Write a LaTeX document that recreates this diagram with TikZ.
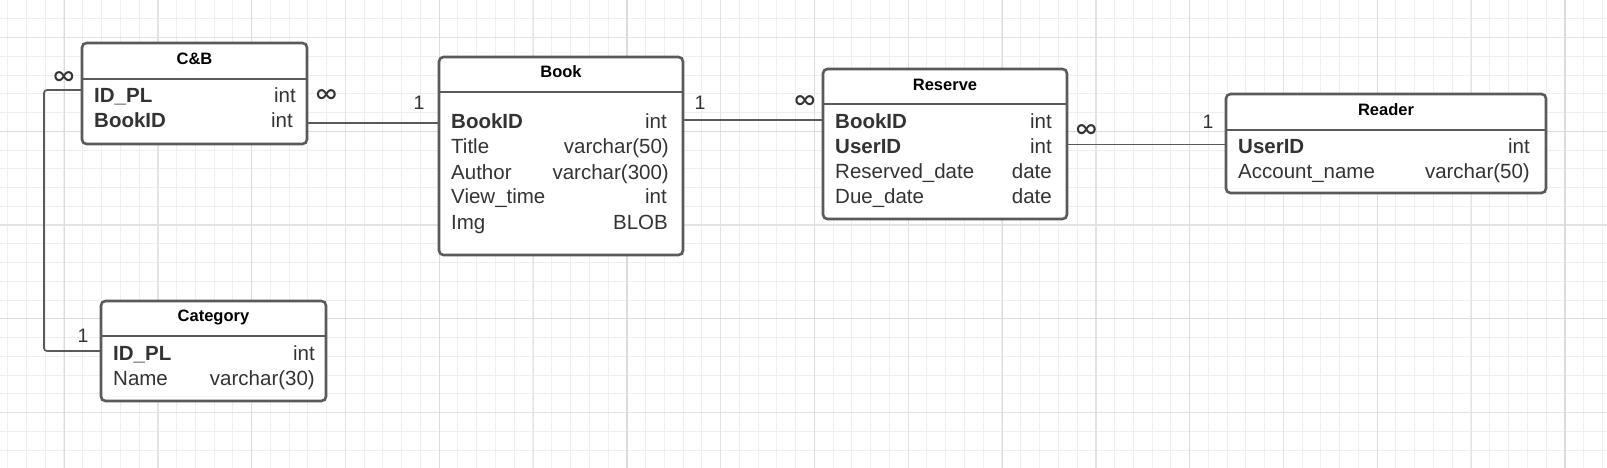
\documentclass[tikz,border=0pt]{standalone}
\usepackage{fontspec}
\setmainfont{Liberation Sans}
\newfontfamily\inffont{Lato}
\definecolor{gridminor}{HTML}{EFEFEF}
\definecolor{gridmajor}{HTML}{E3E3E3}
\definecolor{gridmajor2}{HTML}{DCDCDC}
\definecolor{boxline}{HTML}{5A5A5A}
\definecolor{txt}{HTML}{333333}
\tikzset{
  tbl/.style={draw=boxline, line width=2.6pt, rounded corners=4.5pt, fill=white, inner sep=0pt, outer sep=0pt},
  hdr/.style={draw=boxline, line width=2.6pt},
  ttl/.style={anchor=base, inner sep=0pt, font=\fontsize{16.5}{20}\selectfont\bfseries, text=black},
  fld/.style={anchor=base west, inner sep=0pt, font=\fontsize{20.5}{25}\selectfont, text=txt},
  key/.style={fld, font=\fontsize{20.5}{25}\selectfont\bfseries},
  typ/.style={anchor=base east, inner sep=0pt, font=\fontsize{20.5}{25}\selectfont, text=txt},
  conn/.style={draw=boxline, line width=1.7pt, rounded corners=3pt},
  lbl/.style={inner sep=0pt, font=\fontsize{19.5}{22}\selectfont, text=txt},
  inf/.style={inner sep=0pt, font=\inffont\fontsize{30}{34}\selectfont, text=txt},
  gminor/.style={draw=gridminor, line width=1pt},
  gmajor/.style={draw=gridmajor, line width=1.3pt},
  gmajortwo/.style={draw=gridmajor2, line width=1.3pt},
}
\begin{document}
\begin{tikzpicture}[x=1pt,y=-1pt]
\useasboundingbox (0,0) rectangle (1607,468);
\fill[white] (0,0) rectangle (1607,468);
% grid
\foreach \i in {0,...,85} \draw[gminor] ({7.7+18.76*\i},0) -- ({7.7+18.76*\i},468);
\foreach \i in {0,...,25} \draw[gminor] (0,{0.0+18.76*\i}) -- (1607,{0.0+18.76*\i});
\foreach \i in {0,...,16} \draw[gmajor] ({64.2+93.8*\i},0) -- ({64.2+93.8*\i},468);
\foreach \i in {0,...,4} \draw[gmajor] (0,{37.4+93.8*\i}) -- (1607,{37.4+93.8*\i});
\foreach \i in {0,...,8} \draw[gmajortwo] ({64.2+187.6*\i},0) -- ({64.2+187.6*\i},468);
\foreach \i in {0,1} \draw[gmajortwo] (0,{131.2+187.6*\i}) -- (1607,{131.2+187.6*\i});

% C&B
\node[tbl, minimum width=225pt, minimum height=101pt] (cb) at (194.5,93.5) {};
\draw[hdr] (cb.west |- 0,79) -- (cb.east |- 0,79);
\node[ttl] (cbt) at (194.5,65) {C\&B};
\node[key] (cb1) at (94,102.7) {ID\_PL};
\node[typ] (cb1t) at (296,102.7) {int};
\node[key] (cb2) at (94,127.7) {BookID};
\node[typ] (cb2t) at (293,127.7) {int};

% Book
\node[tbl, minimum width=244pt, minimum height=198pt] (book) at (561,156) {};
\draw[hdr] (book.west |- 0,92) -- (book.east |- 0,92);
\node[ttl] (bookt) at (561,77.7) {Book};
\node[key] (b1) at (451,129) {BookID};
\node[typ] (b1t) at (667,129) {int};
\node[fld] (b2) at (451,154) {Title};
\node[typ] (b2t) at (669,154) {varchar(50)};
\node[fld] (b3) at (451,179) {Author};
\node[typ] (b3t) at (669,179) {varchar(300)};
\node[fld] (b4) at (451,204) {View\_time};
\node[typ] (b4t) at (667,204) {int};
\node[fld] (b5) at (451,229) {Img};
\node[typ] (b5t) at (668,229) {BLOB};

% Reserve
\node[tbl, minimum width=244pt, minimum height=150pt] (res) at (945,144) {};
\draw[hdr] (res.west |- 0,104) -- (res.east |- 0,104);
\node[ttl] (rest) at (945,90.3) {Reserve};
\node[key] (r1) at (835,128.3) {BookID};
\node[typ] (r1t) at (1052,128.3) {int};
\node[key] (r2) at (835,153.3) {UserID};
\node[typ] (r2t) at (1052,153.3) {int};
\node[fld] (r3) at (835,178.3) {Reserved\_date};
\node[typ] (r3t) at (1052,178.3) {date};
\node[fld] (r4) at (835,203.3) {Due\_date};
\node[typ] (r4t) at (1052,203.3) {date};

% Reader
\node[tbl, minimum width=320pt, minimum height=99pt] (rd) at (1386,143.5) {};
\draw[hdr] (rd.west |- 0,130) -- (rd.east |- 0,130);
\node[ttl] (rdt) at (1386,115.7) {Reader};
\node[key] (rd1) at (1238,153.3) {UserID};
\node[typ] (rd1t) at (1530,153.3) {int};
\node[fld] (rd2) at (1238,178.5) {Account\_name};
\node[typ] (rd2t) at (1530,178.5) {varchar(50)};

% Category
\node[tbl, minimum width=225pt, minimum height=100pt] (cat) at (213.5,351) {};
\draw[hdr] (cat.west |- 0,336) -- (cat.east |- 0,336);
\node[ttl] (catt) at (213.5,321.7) {Category};
\node[key] (c1) at (113,360) {ID\_PL};
\node[typ] (c1t) at (315,360) {int};
\node[fld] (c2) at (113,385) {Name};
\node[typ] (c2t) at (315,385) {varchar(30)};

% connectors
\draw[conn] (cb.west |- 0,90) -- (44,90) -- (44,351) -- (cat.west |- 0,351);
\draw[conn] (cb.east |- 0,123) -- (book.west |- 0,123);
\draw[conn] (book.east |- 0,120) -- (res.west |- 0,120);
\draw[conn] (res.east |- 0,144.5) -- (rd.west |- 0,144.5);

% cardinality labels
\node[inf] (l1) at (64,79) {∞};
\node[inf] (l2) at (326.5,97) {∞};
\node[lbl] (l3) at (419,103) {1};
\node[lbl] (l4) at (700,103) {1};
\node[inf] (l5) at (805,103) {∞};
\node[inf] (l6) at (1086.5,131.5) {∞};
\node[lbl] (l7) at (1208,122) {1};
\node[lbl] (l8) at (83,336) {1};
\end{tikzpicture}
\end{document}
